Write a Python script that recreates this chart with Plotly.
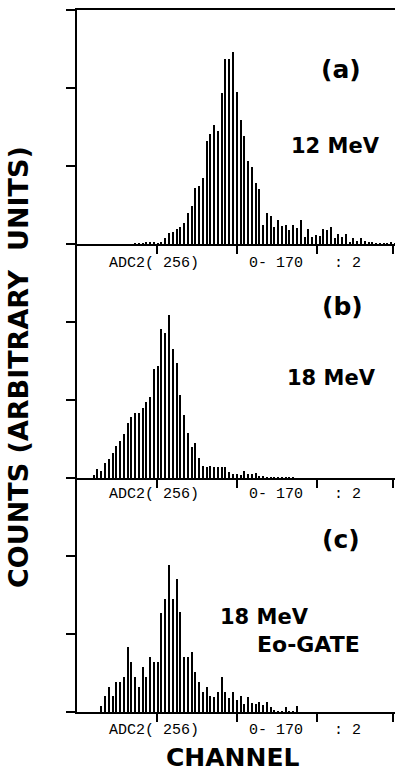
import plotly.graph_objects as go
from plotly.subplots import make_subplots

# ---- data (counts per 2-channel bin, arbitrary units; tick step = 100) ----
BIN_WIDTH = 2          # channels per bin (": 2")
CH_MAX = 170           # "0- 170"

# panel (a) 12 MeV : first bin index and counts
start_a = 15
counts_a = [1, 1, 1, 2, 3, 2, 1, 3,
            8, 14, 15, 19, 22, 27, 40, 49, 72, 74, 85, 132, 141, 153, 145, 194,
            237, 237, 246, 195, 159, 138, 106, 99, 78,
            71, 24, 40, 36, 22, 31, 23, 24, 18, 24, 21, 31, 9, 19, 9, 12, 10,
            19, 18, 22, 8, 13, 9, 13, 3, 8, 4, 8, 4, 3, 3, 1, 1, 1, 1, 3, 1]

# panel (b) 18 MeV
start_b = 4
counts_b = [4, 12, 9, 19, 24, 32, 41, 47, 56, 71, 78, 83, 83, 90, 97, 104,
            140, 144, 191, 186, 209, 165, 147, 106, 81, 58, 40, 45, 26,
            15, 14, 15, 14, 14, 14, 14, 8, 5, 5, 4, 9, 5, 5, 6, 3, 3,
            1, 1, 1, 1, 1, 1, 1, 1]

# panel (c) 18 MeV Eo-GATE
start_c = 6
counts_c = [8, 21, 32, 21, 38, 38, 45, 83, 64, 45, 32, 58, 45, 71, 64, 64,
            127, 145, 188, 145, 171, 128, 71, 71, 77, 51, 38, 26, 32, 21,
            19, 26, 45, 26, 18, 26, 15, 21, 10, 19, 12, 10, 13, 9, 13, 6,
            3, 1, 1, 6, 1, 1, 8]

y_ticks_a = [0, 100, 200, 300]
y_ticks_bc = [0, 100, 200]
x_ticks = [42.5, 85, 127.5, 168]

panel_tags = ["(a)", "(b)", "(c)"]
energy_labels = ["12 MeV", "18 MeV", "18 MeV", "Eo-GATE"]
adc_parts = ["ADC2( 256)", "0- 170", ": 2"]

W, H = 395, 774


def px(xp):
    return xp / W


def py(yp):
    return 1 - yp / H


fig = make_subplots(rows=3, cols=1, vertical_spacing=0)

for r, (start, vals) in enumerate([(start_a, counts_a), (start_b, counts_b), (start_c, counts_c)], 1):
    centers = [BIN_WIDTH * (start + k) + BIN_WIDTH / 2 for k in range(len(vals))]
    fig.add_trace(go.Bar(x=centers, y=vals, width=0.8, marker=dict(color="black", line=dict(width=0)),
                         showlegend=False, hoverinfo="skip"), row=r, col=1)

# panel geometry (pixel positions measured from reference)
tops = [10, 244, 478]
bots = [244, 478, 712]
x_left, x_right = 77, 395
ch_per_px = CH_MAX / 320.0
x_range = [0, (x_right - x_left) * ch_per_px]

layout = dict(width=W, height=H, margin=dict(l=0, r=0, t=0, b=0), autosize=False,
              paper_bgcolor="white", plot_bgcolor="white", bargap=0)
for r in range(3):
    sfx = "" if r == 0 else str(r + 1)
    layout["xaxis" + sfx] = dict(domain=[px(x_left), 1], range=x_range, showline=True, linewidth=2,
                                 linecolor="black", ticks="outside", ticklen=8, tickwidth=2,
                                 tickcolor="black", tickvals=x_ticks, showticklabels=False,
                                 showgrid=False, zeroline=False, mirror=(r == 0))
    layout["yaxis" + sfx] = dict(domain=[py(bots[r]), py(tops[r])],
                                 range=[0, 300], showline=True, linewidth=2, linecolor="black",
                                 ticks="outside", ticklen=9, tickwidth=2, tickcolor="black",
                                 tickvals=y_ticks_a if r == 0 else y_ticks_bc,
                                 showticklabels=False, showgrid=False, zeroline=False)
fig.update_layout(**layout)

bold = dict(family="DejaVu Sans", color="black", weight="bold")
ann = []
tag_pos = [(341, 70), (342, 306), (341, 539)]
for t, (x, y) in zip(panel_tags, tag_pos):
    ann.append(dict(text=t, x=px(x), y=py(y), font=dict(size=25, **bold)))
energy_pos = [(335, 146, 21), (331, 378, 21), (264, 617, 21), (308, 644, 22)]
for t, (x, y, s) in zip(energy_labels, energy_pos):
    ann.append(dict(text=t, x=px(x), y=py(y), font=dict(size=s, **bold)))

adc_y = [263, 494, 730]
for y in adc_y:
    for t, x in zip(adc_parts, [107, 247, 332]):
        ann.append(dict(text=t, x=px(x), y=py(y), xanchor="left",
                        font=dict(family="Liberation Mono", size=15, color="black")))

ann.append(dict(text="CHANNEL", x=px(233), y=py(757), font=dict(size=25, **bold)))
ann.append(dict(text="COUNTS (ARBITRARY\u00a0\u00a0UNITS)", x=px(18), y=py(367), textangle=-90,
                font=dict(size=27, **bold)))

for a in ann:
    a.setdefault("xanchor", "center")
    a.setdefault("yanchor", "middle")
    a.update(xref="paper", yref="paper", showarrow=False)
fig.update_layout(annotations=ann)

fig.write_html("out.html",
               config={"displayModeBar": False},
               post_script="document.body.style.margin='0';"
                           "document.documentElement.style.overflow='hidden';"
                           "document.body.style.overflow='hidden';")
